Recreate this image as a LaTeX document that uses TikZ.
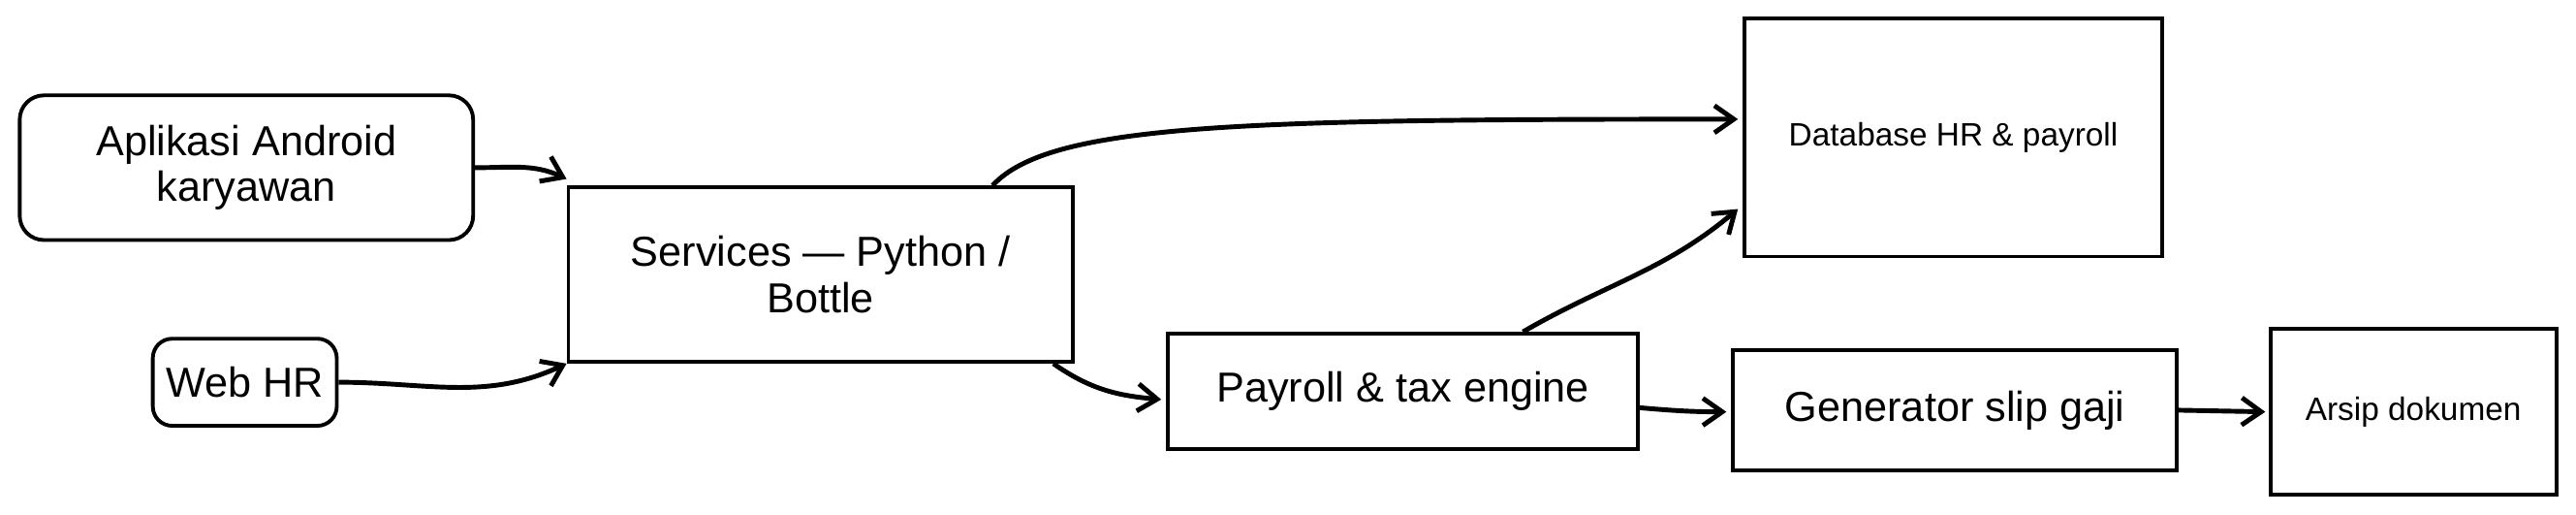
\documentclass[tikz,border=0pt]{standalone}
\usepackage{fontspec}
\setsansfont{Liberation Sans}
\usetikzlibrary{positioning,arrows.meta,calc}

\begin{document}
\begin{tikzpicture}[x=0.1695mm, y=-0.1695mm, font=\sffamily\fontsize{12.3}{13.5}\selectfont,
        box/.style={draw, line width=1.1pt, align=center, inner sep=2pt},
        roundbox/.style={box, rounded corners=2.5mm},
        small/.style={font=\sffamily\fontsize{9.5}{11}\selectfont},
        flow/.style={-{Straight Barb[length=2mm,width=2.8mm]}, line width=1.4pt}]
    \useasboundingbox (0,0) rectangle (1568,313);
    % sources
    \node[roundbox, minimum width=4.678cm, minimum height=1.492cm] (android) at (150,102) {Aplikasi Android\\karyawan};
    \node[roundbox, rounded corners=2mm, minimum width=1.898cm, minimum height=0.898cm] (webhr) at (149,232.5) {Web HR};
    % backend
    \node[box, minimum width=5.204cm, minimum height=1.797cm] (services) at (499.5,167) {Services — Python /\\Bottle};
    \node[box, small, minimum width=4.305cm, minimum height=2.458cm] (database) at (1189,83.5) {Database HR \& payroll};
    \node[box, minimum width=4.848cm, minimum height=1.187cm] (payroll) at (854,238) {Payroll \& tax engine};
    \node[box, minimum width=4.577cm, minimum height=1.237cm] (generator) at (1190,249.5) {Generator slip gaji};
    \node[box, small, minimum width=2.949cm, minimum height=1.712cm] (arsip) at (1469,250.5) {Arsip dokumen};
    % connectors
    \draw[flow] (android.east) to[out=0,in=155] ($(services.north west)+(0,-4)$);
    \draw[flow] (webhr.east) to[out=0,in=205] (services.south west);
    \draw[flow] ($(services.north east)+(-50,0)$) .. controls +(35,-38) and +(-300,0) .. ($(database.west)+(-3,-11)$);
    \draw[flow] ($(services.south east)+(-13,0)$) to[out=-35,in=175] ($(payroll.west)+(-3,5)$);
    \draw[flow] ($(payroll.north)+(73,0)$) to[out=30,in=220] ($(database.south west)+(-3,-30)$);
    \draw[flow] ($(payroll.east)+(0,10)$) to[out=-5,in=180] ($(generator.west)+(-3,1)$);
    \draw[flow] (generator.east) -- ($(arsip.west)+(-2,0)$);
\end{tikzpicture}
\end{document}
